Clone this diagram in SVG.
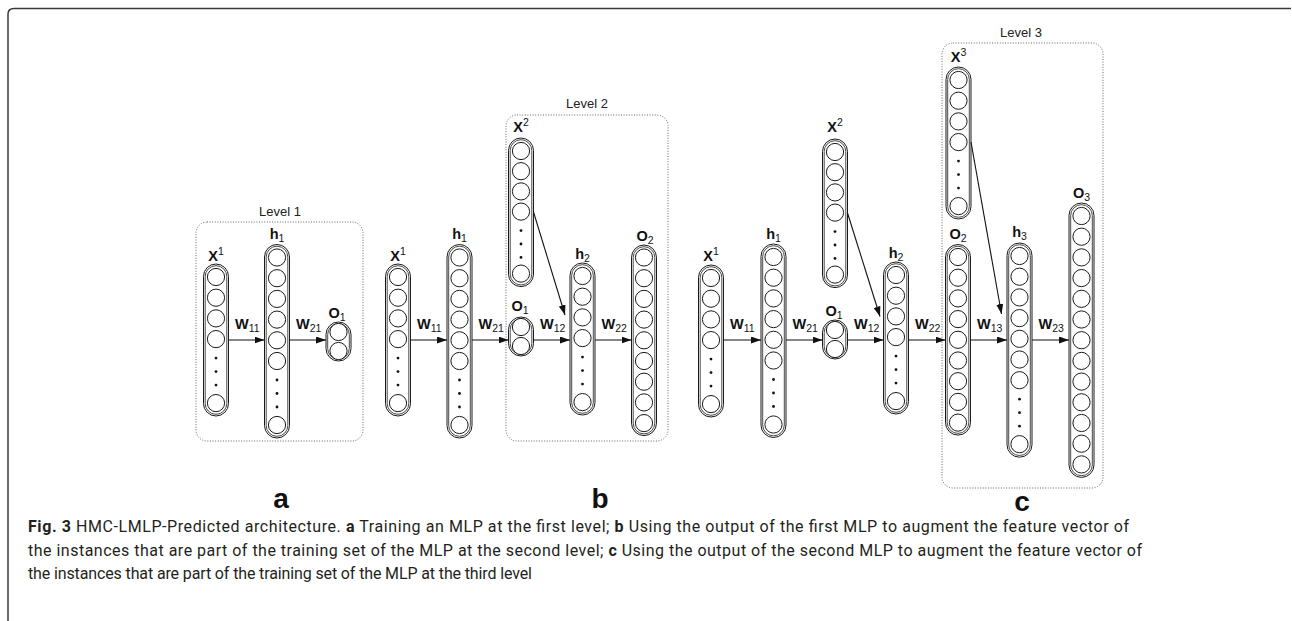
<svg xmlns="http://www.w3.org/2000/svg" width="1292" height="621" viewBox="0 0 1292 621">
<style>
  .pill{fill:#fff;stroke:#1a1a1a;stroke-width:1}
  .pin{fill:none;stroke:#1a1a1a;stroke-width:0.8}
  .u{fill:#fff;stroke:#1a1a1a;stroke-width:1}
  .d{fill:#111}
  .lvl{fill:none;stroke:#666;stroke-width:1;stroke-dasharray:1 1.6}
  .lt{font-family:"Liberation Sans",Arial,sans-serif;font-size:13px;fill:#222;text-anchor:middle}
  .lb{font-family:"Liberation Sans",Arial,sans-serif;font-size:14.5px;font-weight:bold;fill:#111}
  .c{text-anchor:middle}
  .s{font-size:10.5px;font-weight:normal}
  .ar{stroke:#111;stroke-width:1.1;fill:none;marker-end:url(#ah)}
  .pl{font-family:"Liberation Sans",Arial,sans-serif;font-size:28px;font-weight:bold;fill:#111;text-anchor:middle}
  .cap{font-family:Roboto,"Open Sans",sans-serif;font-size:16px;fill:#231f20}
</style>
<defs>
  <marker id="ah" markerUnits="userSpaceOnUse" markerWidth="10" markerHeight="7" refX="10" refY="3.5" orient="auto">
    <path d="M0,0 L10,3.5 L0,7 z" fill="#111"/>
  </marker>
  <!-- 4 units, ellipsis, 1 unit -->
  <g id="t-a4">
    <rect class="pill" x="-12.5" y="0" width="25" height="152" rx="12.5"/>
    <rect class="pin" x="-10.8" y="1.7" width="21.6" height="148.6" rx="10.8"/>
    <circle class="u" cy="13" r="8.6"/><circle class="u" cy="33.7" r="8.6"/>
    <circle class="u" cy="54.4" r="8.6"/><circle class="u" cy="75.1" r="8.6"/>
    <circle class="d" cy="94.1" r="1.4"/><circle class="d" cy="107.6" r="1.4"/><circle class="d" cy="121.1" r="1.4"/>
    <circle class="u" cy="139.1" r="8.6"/>
  </g>
  <!-- slightly tighter 4 + 1 column -->
  <g id="t-a4s">
    <rect class="pill" x="-12.5" y="0" width="25" height="148.6" rx="12.5"/>
    <rect class="pin" x="-10.8" y="1.7" width="21.6" height="145.2" rx="10.8"/>
    <circle class="u" cy="13" r="8.6"/><circle class="u" cy="33.2" r="8.6"/>
    <circle class="u" cy="53.4" r="8.6"/><circle class="u" cy="73.6" r="8.6"/>
    <circle class="d" cy="92.6" r="1.4"/><circle class="d" cy="106" r="1.4"/><circle class="d" cy="119.4" r="1.4"/>
    <circle class="u" cy="135.6" r="8.6"/>
  </g>
  <!-- 6 units, ellipsis, 1 unit -->
  <g id="t-a6">
    <rect class="pill" x="-12.5" y="0" width="25" height="193.5" rx="12.5"/>
    <rect class="pin" x="-10.8" y="1.7" width="21.6" height="190.1" rx="10.8"/>
    <circle class="u" cy="13" r="8.6"/><circle class="u" cy="33.7" r="8.6"/>
    <circle class="u" cy="54.4" r="8.6"/><circle class="u" cy="75.1" r="8.6"/>
    <circle class="u" cy="95.8" r="8.6"/><circle class="u" cy="116.5" r="8.6"/>
    <circle class="d" cy="135.5" r="1.4"/><circle class="d" cy="149" r="1.4"/><circle class="d" cy="162.5" r="1.4"/>
    <circle class="u" cy="180.5" r="8.6"/>
  </g>
  <!-- 7 units, ellipsis, 1 unit -->
  <g id="t-a7">
    <rect class="pill" x="-12.5" y="0" width="25" height="214.2" rx="12.5"/>
    <rect class="pin" x="-10.8" y="1.7" width="21.6" height="210.8" rx="10.8"/>
    <circle class="u" cy="13" r="8.6"/><circle class="u" cy="33.7" r="8.6"/>
    <circle class="u" cy="54.4" r="8.6"/><circle class="u" cy="75.1" r="8.6"/>
    <circle class="u" cy="95.8" r="8.6"/><circle class="u" cy="116.5" r="8.6"/>
    <circle class="u" cy="137.2" r="8.6"/>
    <circle class="d" cy="156.2" r="1.4"/><circle class="d" cy="169.7" r="1.4"/><circle class="d" cy="183.2" r="1.4"/>
    <circle class="u" cy="201.2" r="8.6"/>
  </g>
  <!-- 2 output units -->
  <g id="t-n2">
    <rect class="pill" x="-12.5" y="0" width="25" height="39" rx="12.5"/>
    <rect class="pin" x="-10.8" y="1.7" width="21.6" height="35.6" rx="10.8"/>
    <circle class="u" cy="10" r="8.6"/><circle class="u" cy="29" r="8.6"/>
  </g>
  <!-- 9 output units -->
  <g id="t-n9">
    <rect class="pill" x="-12.5" y="0" width="25" height="190.6" rx="12.5"/>
    <rect class="pin" x="-10.8" y="1.7" width="21.6" height="187.2" rx="10.8"/>
    <circle class="u" cy="12.5" r="8.6"/><circle class="u" cy="33.2" r="8.6"/>
    <circle class="u" cy="53.9" r="8.6"/><circle class="u" cy="74.6" r="8.6"/>
    <circle class="u" cy="95.3" r="8.6"/><circle class="u" cy="116" r="8.6"/>
    <circle class="u" cy="136.7" r="8.6"/><circle class="u" cy="157.4" r="8.6"/>
    <circle class="u" cy="178.1" r="8.6"/>
  </g>
  <!-- 13 output units -->
  <g id="t-n13">
    <rect class="pill" x="-12.5" y="0" width="25" height="274.4" rx="12.5"/>
    <rect class="pin" x="-10.8" y="1.7" width="21.6" height="271" rx="10.8"/>
    <circle class="u" cy="13" r="8.6"/><circle class="u" cy="33.7" r="8.6"/>
    <circle class="u" cy="54.4" r="8.6"/><circle class="u" cy="75.1" r="8.6"/>
    <circle class="u" cy="95.8" r="8.6"/><circle class="u" cy="116.5" r="8.6"/>
    <circle class="u" cy="137.2" r="8.6"/><circle class="u" cy="157.9" r="8.6"/>
    <circle class="u" cy="178.6" r="8.6"/><circle class="u" cy="199.3" r="8.6"/>
    <circle class="u" cy="220" r="8.6"/><circle class="u" cy="240.7" r="8.6"/>
    <circle class="u" cy="261.4" r="8.6"/>
  </g>
</defs>

<rect width="1292" height="621" fill="#fff"/>
<!-- page frame -->
<path d="M8,621 V14 Q8,8.5 14,8.5 H1291" fill="none" stroke="#3a3a3a" stroke-width="1.5"/>

<!-- level boxes -->
<g id="levels">
  <rect class="lvl" x="196" y="222" width="167" height="219" rx="11"/>
  <text class="lt" x="280" y="215.5">Level 1</text>
  <rect class="lvl" x="506" y="115" width="162" height="326" rx="11"/>
  <text class="lt" x="587" y="108">Level 2</text>
  <rect class="lvl" x="942" y="43" width="161" height="445" rx="11"/>
  <text class="lt" x="1021" y="36.5">Level 3</text>
</g>

<!-- panel a -->
<g id="a-x1"><use href="#t-a4" x="216" y="264"/><text class="lb c" x="216" y="261">X<tspan class="s" dy="-6">1</tspan></text></g>
<g id="a-h1"><use href="#t-a6" x="277" y="244.5"/><text class="lb c" x="277" y="239">h<tspan class="s" dy="3">1</tspan></text></g>
<g id="a-o1"><use href="#t-n2" x="338.5" y="322"/><text class="lb c" x="337" y="318">O<tspan class="s" dy="3">1</tspan></text></g>

<!-- panel b -->
<g id="b-x1"><use href="#t-a4" x="398" y="264"/><text class="lb c" x="398" y="261">X<tspan class="s" dy="-6">1</tspan></text></g>
<g id="b-h1"><use href="#t-a6" x="459.5" y="244.5"/><text class="lb c" x="459.5" y="239">h<tspan class="s" dy="3">1</tspan></text></g>
<g id="b-x2"><use href="#t-a4s" x="521" y="138"/><text class="lb c" x="521" y="132">X<tspan class="s" dy="-6">2</tspan></text></g>
<g id="b-o1"><use href="#t-n2" x="521" y="317"/><text class="lb c" x="520" y="311">O<tspan class="s" dy="3">1</tspan></text></g>
<g id="b-h2"><use href="#t-a4" x="582.5" y="263"/><text class="lb c" x="582.5" y="258.5">h<tspan class="s" dy="3">2</tspan></text></g>
<g id="b-o2"><use href="#t-n9" x="644" y="245"/><text class="lb c" x="645" y="240.5">O<tspan class="s" dy="3">2</tspan></text></g>

<!-- panel c -->
<g id="c-x1"><use href="#t-a4" x="711" y="265"/><text class="lb c" x="711" y="261">X<tspan class="s" dy="-6">1</tspan></text></g>
<g id="c-h1"><use href="#t-a6" x="773.5" y="244"/><text class="lb c" x="773.5" y="239">h<tspan class="s" dy="3">1</tspan></text></g>
<g id="c-x2"><use href="#t-a4s" x="835" y="139"/><text class="lb c" x="835" y="132">X<tspan class="s" dy="-6">2</tspan></text></g>
<g id="c-o1"><use href="#t-n2" x="835" y="320"/><text class="lb c" x="834" y="315.5">O<tspan class="s" dy="3">1</tspan></text></g>
<g id="c-h2"><use href="#t-a4" x="896" y="262"/><text class="lb c" x="896" y="258">h<tspan class="s" dy="3">2</tspan></text></g>
<g id="c-x3"><use href="#t-a4" x="958.5" y="67"/><text class="lb c" x="958.5" y="61.5">X<tspan class="s" dy="-6">3</tspan></text></g>
<g id="c-o2"><use href="#t-n9" x="958" y="244.5"/><text class="lb c" x="958" y="238.5">O<tspan class="s" dy="3">2</tspan></text></g>
<g id="c-h3"><use href="#t-a7" x="1019.5" y="243"/><text class="lb c" x="1019.5" y="237">h<tspan class="s" dy="3">3</tspan></text></g>
<g id="c-o3"><use href="#t-n13" x="1081.5" y="203"/><text class="lb c" x="1081.5" y="198">O<tspan class="s" dy="3">3</tspan></text></g>

<!-- connectors with weight labels -->
<g id="connectors">
  <line class="ar" x1="228.5" y1="340" x2="264.5" y2="340"/>
  <line class="ar" x1="289.5" y1="340" x2="326" y2="340"/>
  <line class="ar" x1="410.5" y1="340" x2="447" y2="340"/>
  <line class="ar" x1="472" y1="340" x2="508.5" y2="340"/>
  <line class="ar" x1="533.5" y1="340" x2="570" y2="340"/>
  <line class="ar" x1="595" y1="340" x2="631.5" y2="340"/>
  <line class="ar" x1="533.5" y1="212" x2="565" y2="315"/>
  <line class="ar" x1="723.5" y1="340" x2="761" y2="340"/>
  <line class="ar" x1="786" y1="340" x2="822.5" y2="340"/>
  <line class="ar" x1="847.5" y1="340" x2="883.5" y2="340"/>
  <line class="ar" x1="908.5" y1="340" x2="945.5" y2="340"/>
  <line class="ar" x1="970.5" y1="340" x2="1007" y2="340"/>
  <line class="ar" x1="1032" y1="340" x2="1069" y2="340"/>
  <line class="ar" x1="847.5" y1="213" x2="880" y2="316.5"/>
  <line class="ar" x1="971" y1="142" x2="1001.5" y2="314"/>

  <text class="lb" x="235" y="329">W<tspan class="s" dy="2.5">11</tspan></text>
  <text class="lb" x="296" y="329">W<tspan class="s" dy="2.5">21</tspan></text>
  <text class="lb" x="417" y="329">W<tspan class="s" dy="2.5">11</tspan></text>
  <text class="lb" x="478.5" y="329">W<tspan class="s" dy="2.5">21</tspan></text>
  <text class="lb" x="540" y="329">W<tspan class="s" dy="2.5">12</tspan></text>
  <text class="lb" x="601.5" y="329">W<tspan class="s" dy="2.5">22</tspan></text>
  <text class="lb" x="730" y="329">W<tspan class="s" dy="2.5">11</tspan></text>
  <text class="lb" x="792.5" y="329">W<tspan class="s" dy="2.5">21</tspan></text>
  <text class="lb" x="854" y="329">W<tspan class="s" dy="2.5">12</tspan></text>
  <text class="lb" x="915" y="329">W<tspan class="s" dy="2.5">22</tspan></text>
  <text class="lb" x="977" y="329">W<tspan class="s" dy="2.5">13</tspan></text>
  <text class="lb" x="1038.5" y="329">W<tspan class="s" dy="2.5">23</tspan></text>
</g>

<!-- panel letters -->
<text class="pl" x="281" y="508">a</text>
<text class="pl" x="600" y="508">b</text>
<text class="pl" x="1022" y="511">c</text>

<!-- caption -->
<g id="caption">
  <text class="cap" x="28" y="532" textLength="1101" lengthAdjust="spacing"><tspan font-weight="bold">Fig. 3</tspan> HMC-LMLP-Predicted architecture. <tspan font-weight="bold">a</tspan> Training an MLP at the first level; <tspan font-weight="bold">b</tspan> Using the output of the first MLP to augment the feature vector of</text>
  <text class="cap" x="28" y="555.5" textLength="1114" lengthAdjust="spacing">the instances that are part of the training set of the MLP at the second level; <tspan font-weight="bold">c</tspan> Using the output of the second MLP to augment the feature vector of</text>
  <text class="cap" x="28" y="579" textLength="504" lengthAdjust="spacing">the instances that are part of the training set of the MLP at the third level</text>
</g>
</svg>
